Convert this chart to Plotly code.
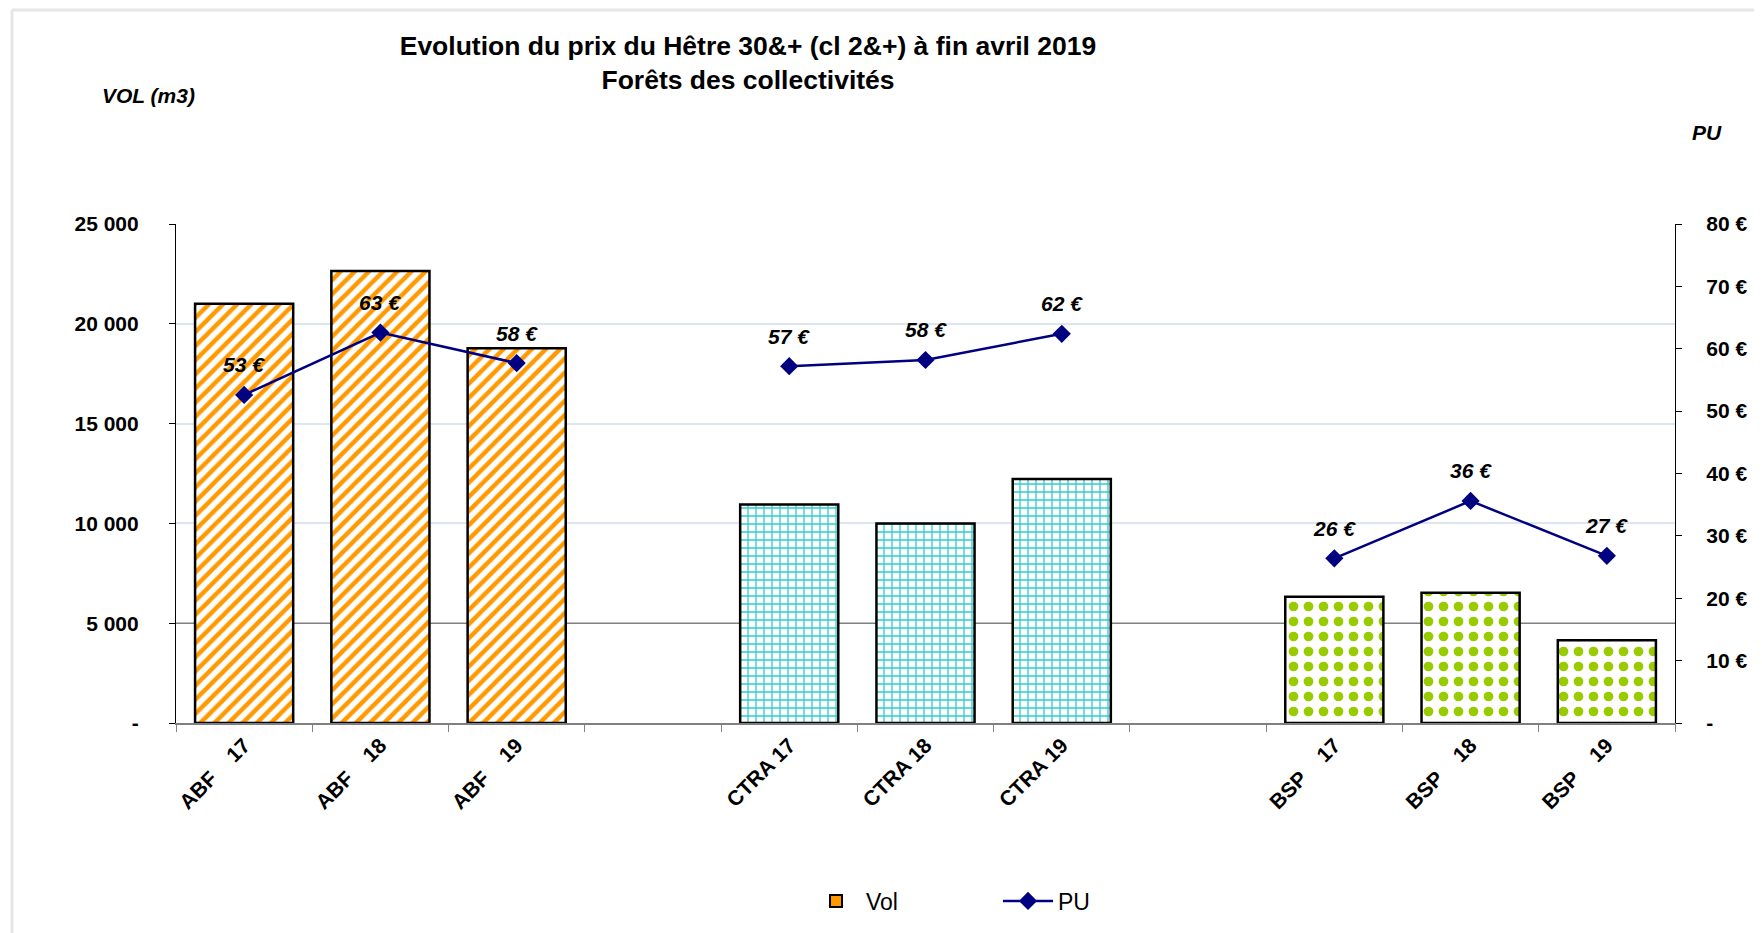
import plotly.graph_objects as go

NB = "\u00a0"
categories = [
    "ABF" + NB * 4 + "17", "ABF" + NB * 4 + "18", "ABF" + NB * 4 + "19",
    "\u200b",
    "CTRA 17", "CTRA 18", "CTRA 19",
    "\u200b\u200b",
    "BSP" + NB * 4 + "17", "BSP" + NB * 4 + "18", "BSP" + NB * 4 + "19",
]
volumes = [21000, 22650, 18770, None, 10950, 10000, 12230, None, 6320, 6520, 4150]
prices = [52.6, 62.6, 57.7, None, 57.2, 58.2, 62.4, None, 26.4, 35.6, 26.8]

vol_ticks = [0, 5000, 10000, 15000, 20000, 25000]
vol_tick_labels = ["-", "5 000", "10 000", "15 000", "20 000", "25 000"]
light_grid_vals = [10000, 15000, 20000, 25000]
dark_grid_val = 5000
pu_ticks = [0, 10, 20, 30, 40, 50, 60, 70, 80]
pu_tick_labels = ["-", "10 €", "20 €", "30 €", "40 €", "50 €", "60 €", "70 €", "80 €"]

title_text = "Evolution du prix du Hêtre 30&amp;+ (cl 2&amp;+) à fin avril 2019<br>Forêts des collectivités"

# page offset (body margin of the html page)
OFF = 8
# target plot area in page pixels
PL, PR, PT, PB = 176, 1675, 224, 723
W, H = 1762, 933
PW, PH = PR - PL, PB - PT

def px_x(x):
    return (x - PL) / PW

def px_y(y):
    return (PB - y) / PH

ORANGE, TURQ, GREEN = "#FF9900", "#33CCCC", "#99CC00"
group_style = {
    "ABF": dict(shape="/", fg=ORANGE, size=10, sol=0.45),
    "CTRA": dict(shape="+", fg=TURQ, size=8, sol=0.3),
    "BSP": dict(shape=".", fg=GREEN, size=15, sol=0.33),
    None: dict(shape="", fg="white", size=8, sol=0.3),
}

def grp(c):
    for k in ("ABF", "CTRA", "BSP"):
        if c.startswith(k):
            return k
    return None

styles = [group_style[grp(c)] for c in categories]

FONT = "Arial, 'Liberation Sans', sans-serif"

fig = go.Figure()
fig.add_trace(go.Bar(
    x=categories, y=volumes, name="Vol", showlegend=False, width=0.72,
    marker=dict(
        color="white",
        line=dict(color="black", width=2.5),
        pattern=dict(
            shape=[s["shape"] for s in styles],
            fgcolor=[s["fg"] for s in styles],
            bgcolor="white",
            size=[s["size"] for s in styles],
            solidity=[s["sol"] for s in styles],
            fillmode="replace",
        ),
    ),
))
fig.add_trace(go.Bar(
    x=[None], y=[None], name="Vol", showlegend=True,
    marker=dict(color=ORANGE, line=dict(color="black", width=2)),
))
fig.add_trace(go.Scatter(
    x=categories, y=prices, name="PU", yaxis="y2", mode="lines+markers",
    connectgaps=False,
    line=dict(color="#000080", width=2.5),
    marker=dict(symbol="diamond", size=14, color="#000080"),
))

annotations = [
    dict(text="<b><i>VOL (m3)</i></b>", xref="paper", yref="paper",
         x=px_x(100), xanchor="left", y=px_y(95), yanchor="middle",
         showarrow=False, font=dict(family=FONT, size=21, color="black")),
    dict(text="<b><i>PU</i></b>", xref="paper", yref="paper",
         x=px_x(1690), xanchor="left", y=px_y(132), yanchor="middle",
         showarrow=False, font=dict(family=FONT, size=21, color="black")),
]
for c, p in zip(categories, prices):
    if p is None:
        continue
    annotations.append(dict(
        x=c, y=p, xref="x", yref="y2", text=f"<b><i>{p:.0f} €</i></b>",
        showarrow=False, yshift=30, yanchor="middle", xanchor="center",
        font=dict(family=FONT, size=21, color="black"),
    ))

fig.update_layout(
    width=W, height=H,
    margin=dict(l=PL - OFF, r=W - PR + OFF, t=PT - OFF, b=H - PB + OFF),
    plot_bgcolor="white", paper_bgcolor="white",
    barmode="overlay",
    font=dict(family=FONT, size=21, color="black"),
    title=dict(
        text="<b>" + title_text + "</b>",
        x=(748 - OFF) / W, xref="container", xanchor="center",
        y=1 - 47 / H, yref="container", yanchor="top",
        font=dict(family=FONT, size=26.5, color="black"),
    ),
    xaxis=dict(
        type="category", categoryorder="array", categoryarray=categories,
        showline=True, linecolor="#808080", linewidth=1.5,
        ticks="outside", tickson="boundaries", ticklen=7, tickcolor="#808080",
        tickangle=-45, tickfont=dict(family=FONT, size=21, weight="bold"),
        showgrid=False, range=[-0.5, 10.5],
    ),
    yaxis=dict(
        range=[0, 25000], tickvals=vol_ticks, ticktext=vol_tick_labels,
        showline=True, linecolor="black", linewidth=1.2,
        ticks="outside", ticklen=6, tickcolor="black",
        showgrid=False,
        minor=dict(tickvals=light_grid_vals, showgrid=True, gridcolor="#DCE6F2",
                   gridwidth=1.5, ticks=""),
        tickfont=dict(family=FONT, size=21, weight="bold"),
        ticklabelstandoff=26, zeroline=False,
    ),
    yaxis2=dict(
        range=[0, 80], tickvals=pu_ticks, ticktext=pu_tick_labels,
        overlaying="y", side="right",
        showline=True, linecolor="black", linewidth=1.2,
        ticks="outside", ticklen=6, tickcolor="black",
        showgrid=False, zeroline=False,
        tickfont=dict(family=FONT, size=21, weight="bold"),
        ticklabelstandoff=20,
    ),
    legend=dict(
        orientation="h", x=px_x(806), xanchor="left",
        y=px_y(901), yanchor="middle",
        font=dict(family=FONT, size=23, color="black"),
        traceorder="normal", itemwidth=50, entrywidth=127,
    ),
    shapes=[
        dict(type="line", xref="paper", yref="y", x0=0, x1=1,
             y0=dark_grid_val, y1=dark_grid_val,
             line=dict(color="#808080", width=1.5), layer="below"),
        dict(type="line", xref="paper", yref="paper",
             x0=px_x(12), x1=px_x(12), y0=px_y(10), y1=px_y(945),
             line=dict(color="#E6E6E6", width=3)),
        dict(type="line", xref="paper", yref="paper",
             x0=px_x(12), x1=px_x(1775), y0=px_y(10), y1=px_y(10),
             line=dict(color="#E6E6E6", width=3)),
    ],
    annotations=annotations,
)

fig.write_html("out.html")
